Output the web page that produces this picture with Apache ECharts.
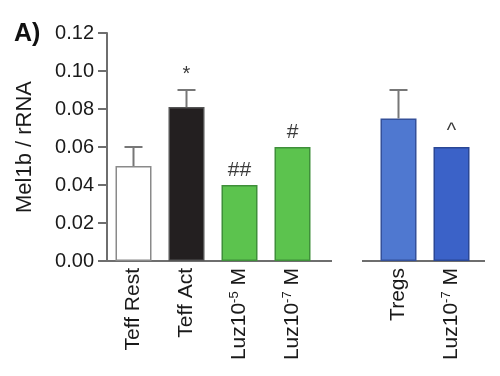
<!DOCTYPE html>
<html>
<head>
<meta charset="utf-8">
<script src="https://cdn.jsdelivr.net/npm/echarts@6/dist/echarts.min.js"></script>
<style>
    html, body { margin: 0; padding: 0; background: #fff; }
    #chart { width: 500px; height: 376px; }
</style>
</head>
<body>
<div id="chart"></div>
<script>
    // left panel (Teff) and right panel (Tregs)
    var teffCats = ['Teff Rest', 'Teff Act', 'Luz10{sup|-5} M', 'Luz10{sup|-7} M'];
    var teffVals = [0.050, 0.081, 0.040, 0.060];
    var teffErr  = [0.010, 0.009, 0, 0];
    var teffSig  = ['', '*', '##', '#'];
    var teffColors = ['#ffffff', '#231f20', '#5cc34e', '#5cc34e'];
    var teffBorders = ['#8a8a8a', '#555555', '#3f8f3a', '#3f8f3a'];

    var tregCats = ['Tregs', 'Luz10{sup|-7} M'];
    var tregVals = [0.075, 0.060];
    var tregErr  = [0.015, 0];
    var tregSig  = ['', '^'];
    var tregColors = ['#4f78d0', '#3b62c8'];
    var tregBorders = ['#34509a', '#2a4795'];

    var axisColor = '#6e6e6e';
    var font = 'Liberation Sans, Arial, sans-serif';

    var chart = echarts.init(document.getElementById('chart'));

    function barData(vals, colors, borders) {
        return vals.map(function (v, i) {
            return {value: v, itemStyle: {color: colors[i], borderColor: borders[i], borderWidth: 1.5}};
        });
    }

    function errData(vals, err, sig) {
        return vals.map(function (v, i) { return [i, v, err[i], sig[i]]; });
    }

    function renderErr(params, api) {
        var x = api.value(0), v = api.value(1), e = api.value(2), s = api.value(3);
        var base = api.coord([x, v]);
        var top = api.coord([x, v + e]);
        var kids = [];
        if (e > 0) {
            kids.push({type: 'line', shape: {x1: base[0], y1: base[1], x2: top[0], y2: top[1]},
                style: {stroke: '#777', lineWidth: 2}});
            kids.push({type: 'line', shape: {x1: top[0] - 9, y1: top[1], x2: top[0] + 9, y2: top[1]},
                style: {stroke: '#777', lineWidth: 2}});
        }
        if (s) {
            var big = s.charAt(0) === '#';
            kids.push({type: 'text', style: {text: s, x: top[0], y: top[1] - (big ? 4 : 6),
                textAlign: 'center', textVerticalAlign: 'bottom',
                font: (big ? '21px ' : '20px ') + font, fill: '#3a3a3a'}});
        }
        return {type: 'group', children: kids};
    }

    var xLabel = {
        rotate: 90,
        fontSize: 21,
        fontFamily: font,
        color: '#1a1a1a',
        margin: 7,
        rich: {sup: {fontSize: 13, fontFamily: font, color: '#1a1a1a', verticalAlign: 'top', padding: [0, 0, 10, 0]}}
    };

    var option = {
        animation: false,
        textStyle: {fontFamily: font},
        title: {text: 'A)', left: 9, top: 17, textStyle: {fontSize: 25, fontWeight: 'bold', color: '#111', fontFamily: font}},
        grid: [
            {left: 107, width: 212, top: 33, height: 228},
            {left: 372, width: 106, top: 33, height: 228}
        ],
        xAxis: [
            {gridIndex: 0, type: 'category', data: teffCats,
                axisLine: {lineStyle: {color: axisColor, width: 2}},
                axisTick: {alignWithLabel: true, length: 6, lineStyle: {color: axisColor, width: 2}},
                axisLabel: xLabel},
            {gridIndex: 1, type: 'category', data: tregCats,
                axisLine: {lineStyle: {color: axisColor, width: 2}},
                axisTick: {alignWithLabel: true, length: 6, lineStyle: {color: axisColor, width: 2}},
                axisLabel: xLabel}
        ],
        yAxis: [
            {gridIndex: 0, type: 'value', min: 0, max: 0.12, interval: 0.02,
                name: 'Mel1b / rRNA', nameLocation: 'middle', nameGap: 71,
                nameTextStyle: {fontSize: 22, color: '#1a1a1a', fontFamily: font},
                axisLine: {show: true, lineStyle: {color: axisColor, width: 2}},
                axisTick: {show: true, length: 9, lineStyle: {color: axisColor, width: 2}},
                axisLabel: {fontSize: 20, color: '#1a1a1a', fontFamily: font, margin: 13,
                    formatter: function (v) { return v.toFixed(2); }},
                splitLine: {show: false}},
            {gridIndex: 1, type: 'value', min: 0, max: 0.12, interval: 0.02,
                axisLine: {show: false}, axisTick: {show: false}, axisLabel: {show: false},
                splitLine: {show: false}}
        ],
        graphic: [
            // axis lines run a little past the outer bars
            {type: 'line', shape: {x1: 318, y1: 261, x2: 332, y2: 261}, style: {stroke: axisColor, lineWidth: 2}},
            {type: 'line', shape: {x1: 362, y1: 261, x2: 373, y2: 261}, style: {stroke: axisColor, lineWidth: 2}},
            {type: 'line', shape: {x1: 477, y1: 261, x2: 485, y2: 261}, style: {stroke: axisColor, lineWidth: 2}}
        ],
        series: [
            {type: 'bar', xAxisIndex: 0, yAxisIndex: 0, barWidth: 36,
                data: barData(teffVals, teffColors, teffBorders)},
            {type: 'custom', xAxisIndex: 0, yAxisIndex: 0, renderItem: renderErr, z: 3,
                data: errData(teffVals, teffErr, teffSig)},
            {type: 'bar', xAxisIndex: 1, yAxisIndex: 1, barWidth: 36,
                data: barData(tregVals, tregColors, tregBorders)},
            {type: 'custom', xAxisIndex: 1, yAxisIndex: 1, renderItem: renderErr, z: 3,
                data: errData(tregVals, tregErr, tregSig)}
        ]
    };

    chart.setOption(option);
</script>
</body>
</html>
